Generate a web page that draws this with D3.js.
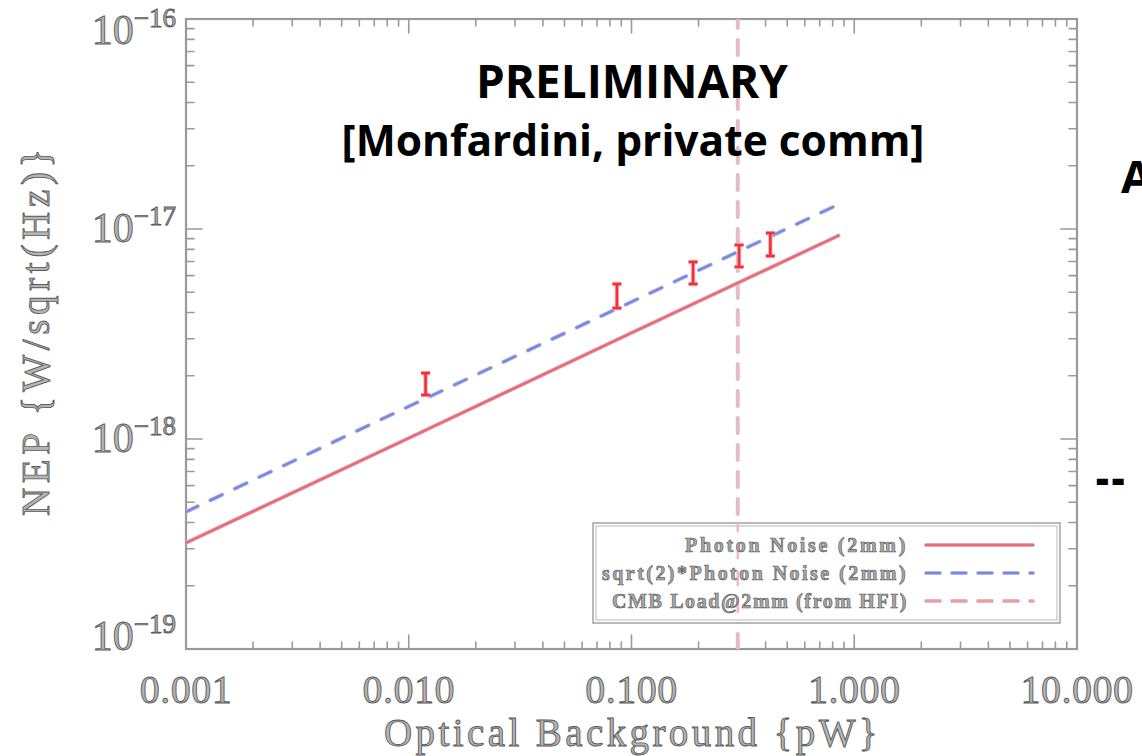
<!DOCTYPE html>
<html>
<head>
<meta charset="utf-8">
<script src="https://cdn.jsdelivr.net/npm/d3@7"></script>
<style>
  html, body { margin: 0; padding: 0; background: #fff; }
  svg { display: block; }
</style>
</head>
<body>
<svg id="chart" width="1142" height="756"></svg>
<script>
// ---------------- data ----------------
const xDomain = [0.001, 10];
const yDomain = [1e-19, 1e-16];
const xTickValues = [0.001, 0.01, 0.1, 1, 10];
const xTickLabels = ["0.001", "0.010", "0.100", "1.000", "10.000"];
const yTickValues = [1e-16, 1e-17, 1e-18, 1e-19];
const yTickExponents = ["\u221216", "\u221217", "\u221218", "\u221219"];

// model curves (optical power in pW, NEP in W/sqrt(Hz))
const modelPower = [0.001, 0.01, 0.1, 0.85];
const photonNoise = [3.2e-19, 1.01e-18, 3.2e-18, 9.3e-18];
const sqrt2PhotonNoise = [4.5e-19, 1.43e-18, 4.5e-18, 1.31e-17];
const cmbLoad = 0.3;

// measured points (error bars)
const measPower = [0.0119, 0.086, 0.189, 0.304, 0.42];
const measLow = [1.62e-18, 4.2e-18, 5.47e-18, 6.6e-18, 7.44e-18];
const measHigh = [2.06e-18, 5.47e-18, 6.97e-18, 8.39e-18, 9.57e-18];

const legendLabels = ["Photon Noise (2mm)", "sqrt(2)*Photon Noise (2mm)", "CMB Load@2mm (from HFI)"];
const xTitle = "Optical Background {pW}";
const yTitle = "NEP {W/sqrt(Hz)}";
const titleLines = ["PRELIMINARY", "[Monfardini, private comm]"];

// ---------------- layout ----------------
const L = 186, T = 19, R = 1077, B = 649;
const svg = d3.select("#chart");
const x = d3.scaleLog().domain(xDomain).range([L, R]);
const y = d3.scaleLog().domain(yDomain).range([B, T]);

const serif = "'Liberation Serif', 'DejaVu Serif', serif";
const axisGray = "#9a9a9a";
const textFill = "#b4b4b4";
const textStroke = "#5a5a5a";

function fit(sel, width) {
  const n = sel.node();
  const fs = parseFloat(sel.attr("font-size"));
  const w = n.getComputedTextLength();
  sel.attr("font-size", fs * width / w);
  return sel;
}
function spread(sel, width) {
  const n = sel.node();
  const w = n.getComputedTextLength();
  const chars = sel.text().length;
  sel.attr("letter-spacing", (width - w) / chars);
  return sel;
}

// clip for plot
svg.append("defs").append("clipPath").attr("id", "plotclip")
  .append("rect").attr("x", L).attr("y", T).attr("width", R - L).attr("height", B - T);

// ---------------- ticks ----------------
const minorX = [];
for (let e = -3; e < 1; e++) for (let k = 2; k <= 9; k++) minorX.push(k * Math.pow(10, e));
const minorY = [];
for (let e = -19; e < -16; e++) for (let k = 2; k <= 9; k++) minorY.push(k * Math.pow(10, e));

const tickG = svg.append("g").attr("stroke", axisGray).attr("stroke-width", 1.6).attr("stroke-linecap", "round");
function tickLines(vals, len, axis) {
  vals.forEach(v => {
    if (axis === "x") {
      const px = x(v);
      tickG.append("line").attr("x1", px).attr("x2", px).attr("y1", B).attr("y2", B - len);
      tickG.append("line").attr("x1", px).attr("x2", px).attr("y1", T).attr("y2", T + len);
    } else {
      const py = y(v);
      tickG.append("line").attr("x1", L).attr("x2", L + len).attr("y1", py).attr("y2", py);
      tickG.append("line").attr("x1", R).attr("x2", R - len).attr("y1", py).attr("y2", py);
    }
  });
}
tickLines(minorX, 7, "x");
tickLines(xTickValues, 14, "x");
tickLines(minorY, 8, "y");
tickLines(yTickValues, 16, "y");

// frame
svg.append("rect").attr("x", L).attr("y", T).attr("width", R - L).attr("height", B - T)
  .attr("fill", "none").attr("stroke", axisGray).attr("stroke-width", 2.2);

// ---------------- tick labels ----------------
const xl = svg.append("g");
xTickValues.forEach((v, i) => {
  xl.append("text").attr("x", x(v)).attr("y", B + 54).attr("text-anchor", "middle")
    .attr("font-family", serif).attr("font-size", 40)
    .attr("fill", textFill).attr("stroke", textStroke).attr("stroke-width", 0.9)
    .attr("letter-spacing", 0.5)
    .text(xTickLabels[i]);
});

const yl = svg.append("g");
yTickValues.forEach((v, i) => {
  const dy = i === 0 ? 25 : (i === yTickValues.length - 1 ? 1 : 13);
  const t = yl.append("text").attr("x", 176).attr("y", y(v) + dy).attr("text-anchor", "end")
    .attr("font-family", serif)
    .attr("fill", textFill).attr("stroke", textStroke).attr("stroke-width", 0.9);
  t.append("tspan").attr("font-size", 42).text("10");
  t.append("tspan").attr("font-size", 27).attr("dy", -17).text(yTickExponents[i]);
});

// axis titles
svg.append("text").attr("x", (L + R) / 2 + 1).attr("y", 746).attr("text-anchor", "middle")
  .attr("font-family", serif).attr("font-size", 39)
  .attr("fill", textFill).attr("stroke", textStroke).attr("stroke-width", 0.9)
  .text(xTitle).call(s => spread(s, 497));

svg.append("text").attr("transform", "translate(49,330) rotate(-90)").attr("text-anchor", "middle")
  .attr("font-family", serif).attr("font-size", 39)
  .attr("fill", textFill).attr("stroke", textStroke).attr("stroke-width", 0.9)
  .text(yTitle).call(s => spread(s, 372));

// ---------------- plot content ----------------
const plot = svg.append("g").attr("clip-path", "url(#plotclip)");
const line = d3.line().x(d => x(d[0])).y(d => y(d[1]));

function haloPath(data, color, width, dash) {
  plot.append("path").datum(data).attr("d", line).attr("fill", "none")
    .attr("stroke", "#c8c8c8").attr("stroke-width", width + 1.6)
    .attr("stroke-dasharray", dash).attr("stroke-linecap", "round");
  plot.append("path").datum(data).attr("d", line).attr("fill", "none")
    .attr("stroke", color).attr("stroke-width", width)
    .attr("stroke-dasharray", dash).attr("stroke-linecap", "round");
}

// CMB load vertical line
haloPath([[cmbLoad, yDomain[0]], [cmbLoad, yDomain[1]]], "#f7b4bc", 2.4, "15,12");
// photon noise
haloPath(modelPower.map((p, i) => [p, photonNoise[i]]), "#f56575", 2.6, null);
// sqrt(2) photon noise
haloPath(modelPower.map((p, i) => [p, sqrt2PhotonNoise[i]]), "#7488f2", 2.6, "13,14");

// error bars
const eb = plot.append("g");
measPower.forEach((p, i) => {
  const px = x(p), y1 = y(measLow[i]), y2 = y(measHigh[i]);
  [["#d8c0c0", 4.4], ["#ff2a3a", 2.6]].forEach(([c, w]) => {
    const g = eb.append("g").attr("stroke", c).attr("stroke-width", w).attr("stroke-linecap", "butt");
    g.append("line").attr("x1", px).attr("x2", px).attr("y1", y1).attr("y2", y2);
    g.append("line").attr("x1", px - 4.5).attr("x2", px + 4.5).attr("y1", y1).attr("y2", y1);
    g.append("line").attr("x1", px - 4.5).attr("x2", px + 4.5).attr("y1", y2).attr("y2", y2);
  });
});

// ---------------- legend ----------------
const lg = svg.append("g");
lg.append("rect").attr("x", 593).attr("y", 523).attr("width", 467).attr("height", 100)
  .attr("fill", "#fff").attr("stroke", "#a8a8a8").attr("stroke-width", 1.6);
lg.append("rect").attr("x", 596).attr("y", 526).attr("width", 461).attr("height", 94)
  .attr("fill", "none").attr("stroke", "#c4c4c4").attr("stroke-width", 1.2);
// the CMB vertical line shows through the legend in the reference
lg.append("line").attr("x1", x(cmbLoad)).attr("x2", x(cmbLoad)).attr("y1", 523).attr("y2", 623)
  .attr("stroke", "#f7b4bc").attr("stroke-width", 2.4).attr("stroke-dasharray", "15,12")
  .attr("stroke-dashoffset", 6);

const legendColors = ["#f56575", "#7488f2", "#f59aa4"];
const legendDash = [null, "14,12", "14,12"];
const legendWidths = [223, 306, 296];
legendLabels.forEach((lab, i) => {
  const by = 552 + i * 28;
  lg.append("text").attr("x", 908).attr("y", by).attr("text-anchor", "end")
    .attr("font-family", serif).attr("font-weight", "bold").attr("font-size", 20)
    .attr("fill", "#a8a8a8").attr("stroke", "#555").attr("stroke-width", 0.6)
    .text(lab).call(s => spread(s, legendWidths[i]));
  const ly = by - 7;
  lg.append("line").attr("x1", 926).attr("x2", 1033).attr("y1", ly).attr("y2", ly)
    .attr("stroke", "#c8c8c8").attr("stroke-width", 4).attr("stroke-dasharray", legendDash[i])
    .attr("stroke-linecap", "round");
  lg.append("line").attr("x1", 926).attr("x2", 1033).attr("y1", ly).attr("y2", ly)
    .attr("stroke", legendColors[i]).attr("stroke-width", 2.4).attr("stroke-dasharray", legendDash[i])
    .attr("stroke-linecap", "round");
});

// ---------------- slide annotations ----------------
const sans = "'Open Sans', 'Noto Sans', sans-serif";
svg.append("text").attr("x", 632).attr("y", 98).attr("text-anchor", "middle")
  .attr("font-family", sans).attr("font-weight", "bold").attr("font-size", 40)
  .attr("fill", "#000").text(titleLines[0]).call(s => fit(s, 312));
svg.append("text").attr("x", 633).attr("y", 156).attr("text-anchor", "middle")
  .attr("font-family", sans).attr("font-weight", "bold").attr("font-size", 40)
  .attr("fill", "#000").text(titleLines[1]).call(s => fit(s, 583));

svg.append("text").attr("x", 1121).attr("y", 193)
  .attr("font-family", sans).attr("font-weight", "bold").attr("font-size", 45)
  .attr("fill", "#000").text("A");
svg.append("text").attr("x", 1096).attr("y", 493)
  .attr("font-family", sans).attr("font-weight", "800").attr("font-size", 40)
  .attr("letter-spacing", 3)
  .attr("fill", "#000").text("--");
</script>
</body>
</html>
